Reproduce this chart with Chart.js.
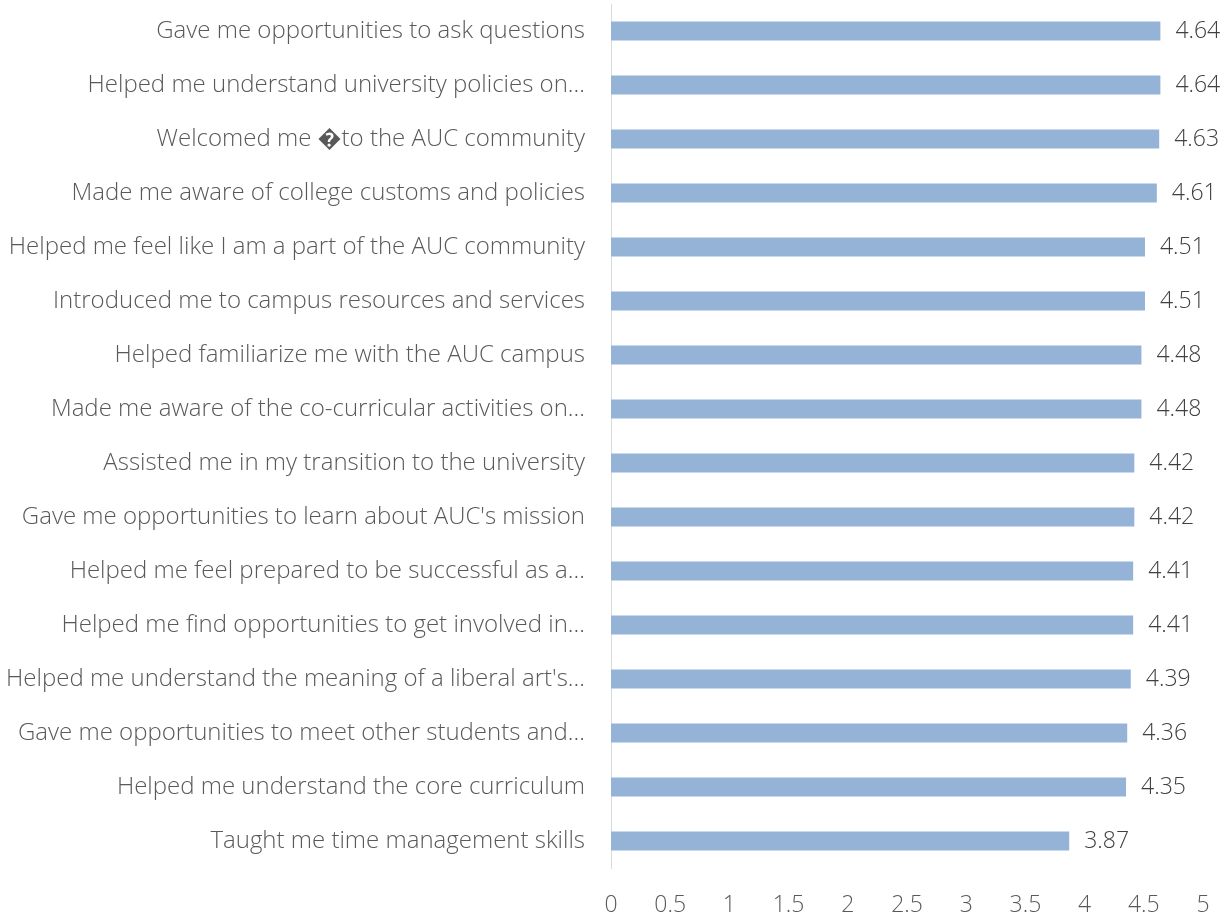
<!DOCTYPE html>
<html>
<head>
<meta charset="utf-8">
<script src="https://cdn.jsdelivr.net/npm/chart.js@4/dist/chart.umd.min.js"></script>
<style>
    html, body { margin: 0; padding: 0; background: #fff; }
    #wrap { width: 1230px; height: 917px; }
</style>
</head>
<body>
<div id="wrap"><canvas id="chart"></canvas></div>
<script>
// Survey items, top to bottom
const categories = [
    'Gave me opportunities to ask questions',
    'Helped me understand university policies on…',
    'Welcomed me \uFFFDto the AUC community',
    'Made me aware of college customs and policies',
    'Helped me feel like I am a part of the AUC community',
    'Introduced me to campus resources and services',
    'Helped familiarize me with the AUC campus',
    'Made me aware of the co-curricular activities on…',
    'Assisted me in my transition to the university',
    "Gave me opportunities to learn about AUC's mission",
    'Helped me feel prepared to be successful as a…',
    'Helped me find opportunities to get involved in…',
    "Helped me understand the meaning of a liberal art's…",
    'Gave me opportunities to meet other students and…',
    'Helped me understand the core curriculum',
    'Taught me time management skills'
];

const meanScores = [4.64, 4.64, 4.63, 4.61, 4.51, 4.51, 4.48, 4.48, 4.42, 4.42, 4.41, 4.41, 4.39, 4.36, 4.35, 3.87];

const xTicks = [0, 0.5, 1, 1.5, 2, 2.5, 3, 3.5, 4, 4.5, 5];

const FONT = "'Open Sans', sans-serif";

// Draw value labels just past the end of each bar
const valueLabels = {
    id: 'valueLabels',
    afterDatasetsDraw(chart) {
        const ctx = chart.ctx;
        const meta = chart.getDatasetMeta(0);
        ctx.save();
        ctx.font = '300 23px ' + FONT;
        ctx.fillStyle = '#404040';
        ctx.textAlign = 'left';
        ctx.textBaseline = 'middle';
        meta.data.forEach((bar, i) => {
            ctx.fillText(meanScores[i].toFixed(2), bar.x + 15, bar.y);
        });
        ctx.restore();
    }
};

new Chart(document.getElementById('chart'), {
    type: 'bar',
    data: {
        labels: categories,
        datasets: [{
            data: meanScores,
            backgroundColor: '#95B3D7',
            borderWidth: 0,
            barPercentage: 0.355,
            categoryPercentage: 1
        }]
    },
    options: {
        indexAxis: 'y',
        responsive: true,
        maintainAspectRatio: false,
        animation: false,
        layout: { padding: { top: 4, right: 27, bottom: 0, left: 0 } },
        plugins: {
            legend: { display: false },
            tooltip: { enabled: false }
        },
        scales: {
            x: {
                min: 0,
                max: 5,
                afterBuildTicks(axis) {
                    axis.ticks = xTicks.map(v => ({ value: v }));
                },
                afterFit(axis) {
                    axis.height = 49;
                    axis.paddingLeft = 0;
                    axis.paddingRight = 0;
                },
                grid: { display: false, drawTicks: false },
                border: { display: false },
                ticks: {
                    padding: 24,
                    color: '#595959',
                    font: { family: FONT, size: 23, weight: '300' },
                    maxRotation: 0,
                    autoSkip: false,
                    callback: (v) => String(v)
                }
            },
            y: {
                afterFit(axis) {
                    axis.width = 611;
                    axis.paddingTop = 0;
                    axis.paddingBottom = 0;
                },
                grid: { display: false, drawTicks: false },
                border: { display: true, color: '#D9D9D9', width: 1 },
                ticks: {
                    padding: 26,
                    color: '#595959',
                    font: { family: FONT, size: 24, weight: '300' },
                    autoSkip: false
                }
            }
        }
    },
    plugins: [valueLabels]
});
</script>
</body>
</html>
